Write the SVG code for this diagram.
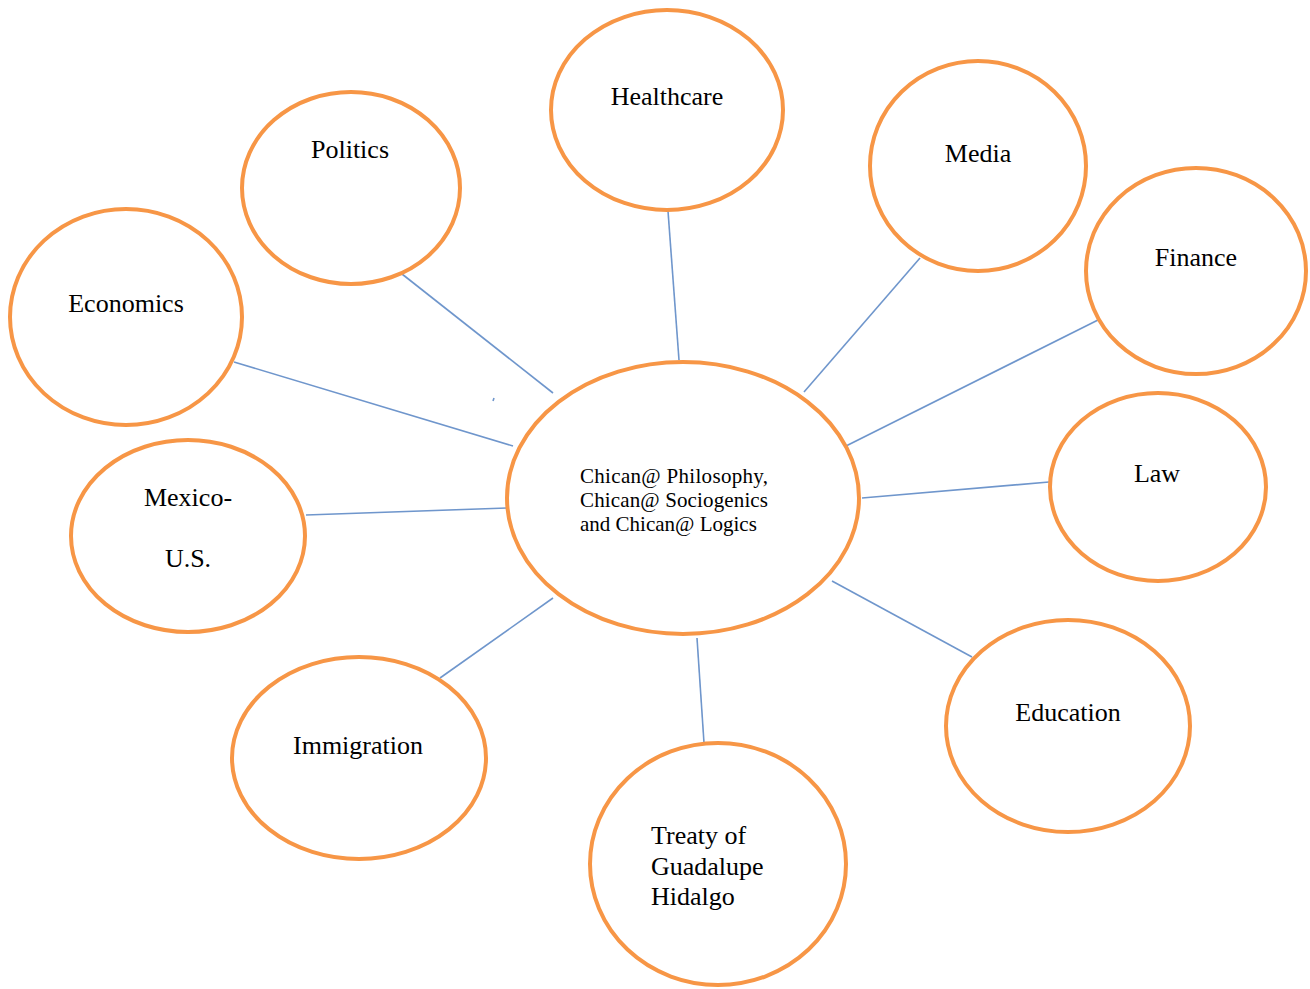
<svg xmlns="http://www.w3.org/2000/svg" width="1310" height="989" viewBox="0 0 1310 989">
  <style>
    .bubble { fill: #ffffff; stroke: #F79646; stroke-width: 4; }
    .link { stroke: #6F96CC; stroke-width: 1.6; fill: none; }
    .label { font-family: "Liberation Serif", "Times New Roman", serif; font-size: 26px; fill: #000000; }
    .mid { text-anchor: middle; }
    .core { font-family: "Liberation Serif", "Times New Roman", serif; font-size: 21px; fill: #000000; }
  </style>
  <rect width="1310" height="989" fill="#ffffff"/>

  <!-- spokes from the central idea -->
  <g id="connectors">
    <line class="link" x1="402" y1="274" x2="553" y2="393"/>
    <line class="link" x1="668" y1="211" x2="679" y2="360"/>
    <line class="link" x1="920" y1="258" x2="804" y2="392"/>
    <line class="link" x1="1098" y1="320" x2="846" y2="446"/>
    <line class="link" x1="234" y1="362" x2="513" y2="446"/>
    <line class="link" x1="1049" y1="482" x2="862" y2="498"/>
    <line class="link" x1="306" y1="515" x2="507" y2="508"/>
    <line class="link" x1="440" y1="678" x2="553" y2="598"/>
    <line class="link" x1="697" y1="638" x2="704" y2="743"/>
    <line class="link" x1="832" y1="581" x2="972" y2="657"/>
    <line class="link" x1="493" y1="401" x2="494" y2="398"/>
  </g>

  <g id="center">
    <ellipse class="bubble" cx="683" cy="498" rx="176" ry="136"/>
    <text class="core" x="580" y="483" textLength="188" lengthAdjust="spacing">Chican@ Philosophy,</text>
    <text class="core" x="580" y="507" textLength="188" lengthAdjust="spacing">Chican@ Sociogenics</text>
    <text class="core" x="580" y="531">and Chican@ Logics</text>
  </g>

  <g id="healthcare">
    <ellipse class="bubble" cx="667" cy="110" rx="116" ry="100"/>
    <text class="label mid" x="667" y="105">Healthcare</text>
  </g>

  <g id="politics">
    <ellipse class="bubble" cx="351" cy="188" rx="109" ry="96"/>
    <text class="label mid" x="350" y="158">Politics</text>
  </g>

  <g id="media">
    <ellipse class="bubble" cx="978" cy="166" rx="108" ry="105"/>
    <text class="label mid" x="978" y="162">Media</text>
  </g>

  <g id="finance">
    <ellipse class="bubble" cx="1196" cy="271" rx="110" ry="103"/>
    <text class="label mid" x="1196" y="266">Finance</text>
  </g>

  <g id="economics">
    <ellipse class="bubble" cx="126" cy="317" rx="116" ry="108"/>
    <text class="label mid" x="126" y="312">Economics</text>
  </g>

  <g id="law">
    <ellipse class="bubble" cx="1158" cy="487" rx="108" ry="94"/>
    <text class="label mid" x="1157" y="482">Law</text>
  </g>

  <g id="mexico-us">
    <ellipse class="bubble" cx="188" cy="536" rx="117" ry="96"/>
    <text class="label mid" x="188" y="506">Mexico-</text>
    <text class="label mid" x="188" y="567">U.S.</text>
  </g>

  <g id="education">
    <ellipse class="bubble" cx="1068" cy="726" rx="122" ry="106"/>
    <text class="label mid" x="1068" y="721">Education</text>
  </g>

  <g id="immigration">
    <ellipse class="bubble" cx="359" cy="758" rx="127" ry="101"/>
    <text class="label mid" x="358" y="754">Immigration</text>
  </g>

  <g id="treaty">
    <ellipse class="bubble" cx="718" cy="864" rx="128" ry="121"/>
    <text class="label" x="651" y="844">Treaty of</text>
    <text class="label" x="651" y="875">Guadalupe</text>
    <text class="label" x="651" y="905">Hidalgo</text>
  </g>
</svg>
